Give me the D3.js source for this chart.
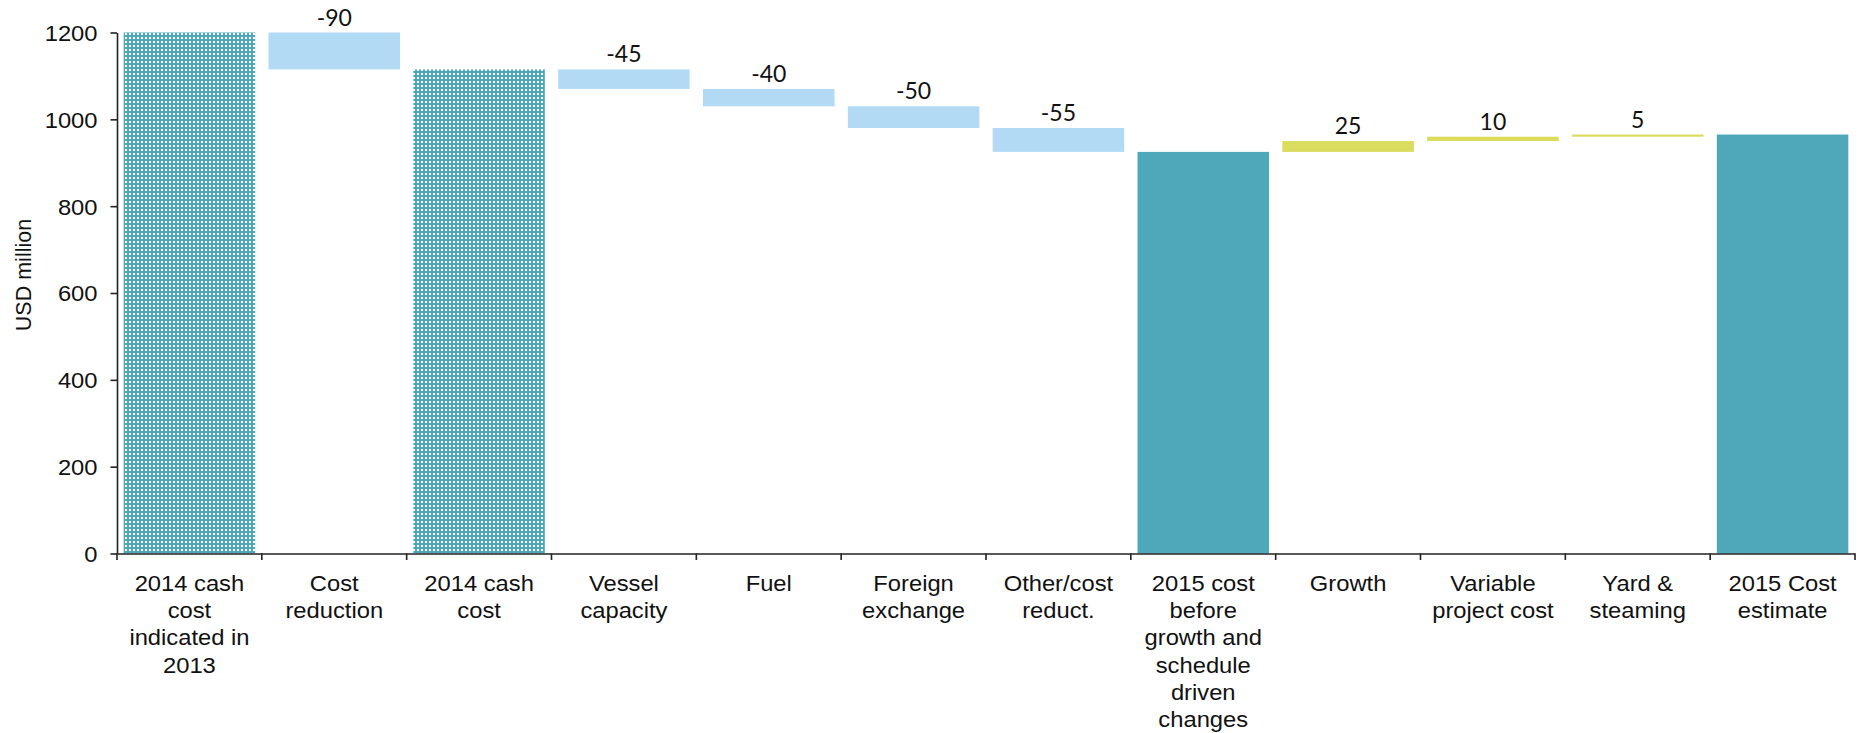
<!DOCTYPE html>
<html>
<head>
<meta charset="utf-8">
<script src="https://cdn.jsdelivr.net/npm/d3@7"></script>
<style>
  html, body { margin: 0; padding: 0; background: #fff; }
  svg { display: block; }
</style>
</head>
<body>
<svg id="chart" width="1860" height="733"></svg>
<script>
// ---- data ----
const categories = [
  "2014 cash\ncost\nindicated in\n2013",
  "Cost\nreduction",
  "2014 cash\ncost",
  "Vessel\ncapacity",
  "Fuel",
  "Foreign\nexchange",
  "Other/cost\nreduct.",
  "2015 cost\nbefore\ngrowth and\nschedule\ndriven\nchanges",
  "Growth",
  "Variable\nproject cost",
  "Yard &\nsteaming",
  "2015 Cost\nestimate"
];
const kinds = ["total2014","decrease","total2014","decrease","decrease","decrease","decrease","total2015","increase","increase","increase","total2015"];
const values = [1200, -85, 1115, -45, -40, -50, -55, 925, 25, 10, 5, 965];
const valueLabels = ["", "-90", "", "-45", "-40", "-50", "-55", "", "25", "10", "5", ""];
const yTicks = [0, 200, 400, 600, 800, 1000, 1200];
const yTitle = "USD million";

// ---- layout ----
const svg = d3.select("#chart");
const plotLeft = 117, plotRight = 1855, plotTop = 32.5, plotBottom = 553.5;
const stretch = 1.08;

const xb = d3.scaleBand().domain(d3.range(categories.length)).range([plotLeft, plotRight]).paddingInner(0.092).paddingOuter(0.046);
const y = d3.scaleLinear().domain([0, 1200]).range([plotBottom, plotTop]);

const fills = {
  decrease: "#B3DAF5",
  increase: "#D9DC5C",
  total2015: "#4FA8BA",
  total2014: "url(#dots)"
};

// pattern
const defs = svg.append("defs");
const pat = defs.append("pattern").attr("id", "dots").attr("patternUnits", "userSpaceOnUse")
  .attr("width", 4).attr("height", 4);
pat.append("rect").attr("width", 4).attr("height", 4).attr("fill", "#4FA8BA");
pat.append("rect").attr("x", 1).attr("y", 1).attr("width", 2).attr("height", 2).attr("fill", "#fff");

// compute bars
let level = 0;
const bars = values.map((v, i) => {
  let y0, y1;
  if (kinds[i].startsWith("total")) { y0 = 0; y1 = v; level = v; }
  else { y0 = level; y1 = level + v; level = y1; }
  return { i, kind: kinds[i], y0, y1, label: valueLabels[i] };
});

svg.append("g").selectAll("rect").data(bars).join("rect")
  .attr("x", d => xb(d.i))
  .attr("width", xb.bandwidth())
  .attr("y", d => y(Math.max(d.y0, d.y1)))
  .attr("height", d => Math.abs(y(d.y0) - y(d.y1)))
  .attr("fill", d => fills[d.kind]);

// value labels
svg.append("g").selectAll("text").data(bars.filter(d => d.label)).join("text")
  .attr("transform", d => `translate(${xb(d.i) + xb.bandwidth() / 2},${y(Math.max(d.y0, d.y1)) - 7})`)
  .attr("text-anchor", "middle")
  .style("font-family", "Lato, 'Open Sans', sans-serif")
  .style("font-size", "23px")
  .style("fill", "#111")
  .text(d => d.label);

// y axis
const yAxis = svg.append("g").attr("transform", `translate(${plotLeft},0)`)
  .call(d3.axisLeft(y).tickValues(yTicks).tickSize(6.5).tickSizeOuter(0).tickPadding(13).tickFormat(d3.format("d")));
yAxis.select(".domain").attr("stroke", "#222").attr("stroke-width", 1.6);
yAxis.selectAll(".tick line").attr("stroke", "#222").attr("stroke-width", 1.6);
yAxis.selectAll(".tick text")
  .style("font-family", "'Liberation Sans', Arial, sans-serif")
  .style("font-size", "22px")
  .attr("fill", "#111")
  .attr("dy", "0.36em")
  .attr("transform", `scale(${stretch},1)`)
  .attr("x", -19.5 / stretch);

// x axis (band boundaries)
const xs = d3.scaleBand().domain(d3.range(categories.length)).range([plotLeft, plotRight]).padding(0);
const xAxis = svg.append("g").attr("transform", `translate(0,${plotBottom})`)
  .call(d3.axisBottom(xs).tickSize(0).tickFormat(""));
xAxis.select(".domain").attr("stroke", "#222").attr("stroke-width", 1.6);
const bounds = d3.range(categories.length + 1);
xAxis.selectAll("line.bnd").data(bounds).join("line").attr("class", "bnd")
  .attr("x1", d => d < categories.length ? xs(d) : xs(d - 1) + xs.step())
  .attr("x2", d => d < categories.length ? xs(d) : xs(d - 1) + xs.step())
  .attr("y1", 0).attr("y2", 6.5)
  .attr("stroke", "#222").attr("stroke-width", 1.6);

// category labels
const catG = svg.append("g");
categories.forEach((c, i) => {
  const t = catG.append("text")
    .attr("transform", `translate(${xs(i) + xs.step() / 2},591) scale(${stretch},1)`)
    .attr("text-anchor", "middle")
    .style("font-family", "'Liberation Sans', Arial, sans-serif")
    .style("font-size", "22px")
    .style("fill", "#111");
  c.split("\n").forEach((line, k) => {
    t.append("tspan").attr("x", 0).attr("y", k * 27.2).text(line);
  });
});

// y title
svg.append("text")
  .attr("transform", "translate(31,275) rotate(-90)")
  .attr("text-anchor", "middle")
  .style("font-family", "'Liberation Sans', Arial, sans-serif")
  .style("font-size", "21.5px")
  .style("fill", "#111")
  .text(yTitle);
</script>
</body>
</html>
